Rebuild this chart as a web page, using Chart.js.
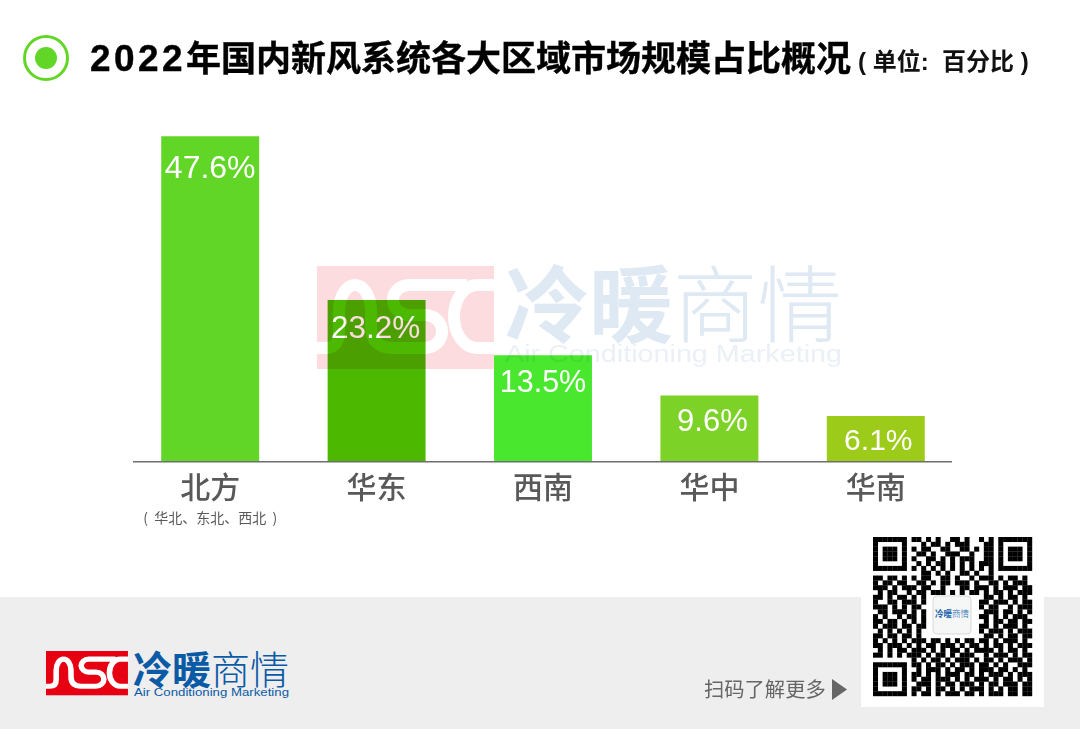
<!DOCTYPE html>
<html lang="zh-CN">
<head>
<meta charset="utf-8">
<title>2022年国内新风系统各大区域市场规模占比概况</title>
<script src="https://cdn.jsdelivr.net/npm/chart.js@4/dist/chart.umd.min.js"></script>
<style>
html, body { margin: 0; padding: 0; background: #fff; }
#page { position: relative; width: 1080px; height: 729px; overflow: hidden; font-family: "Liberation Sans", "Noto Sans CJK SC", sans-serif; }
#footer { position: absolute; left: 0; top: 597px; width: 1080px; height: 132px; background: #eeeeee; }
#qrBox { position: absolute; left: 861px; top: 597px; width: 183px; height: 110px; background: #fff; }
#chart { position: absolute; left: 0; top: 0; }
#title { position: absolute; left: 90px; top: 38px; font-size: 35px; line-height: 42px; font-weight: 700; color: #000; white-space: nowrap; -webkit-text-stroke: 0.4px #000; }
#title .num { font-size: 37px; letter-spacing: 3.4px; }
#unit { position: absolute; left: 858px; top: 47px; font-size: 24px; line-height: 30px; font-weight: 700; color: #111; white-space: pre; }
#scan { position: absolute; left: 704px; top: 675px; font-size: 20.3px; line-height: 27px; color: #666; white-space: nowrap; font-family: "Noto Sans CJK SC", sans-serif; }
svg { position: absolute; left: 0; top: 0; }
#mark { mix-blend-mode: multiply; pointer-events: none; }
.cjk { font-family: "Noto Sans CJK SC", sans-serif; }
</style>
</head>
<body>
<div id="page">
  <div id="footer"></div>
  <div id="qrBox"></div>
  <svg width="1080" height="729">
    <defs>
      <g id="nsc">
        <rect width="177" height="103" fill="currentColor"/>
        <path d="M0 82 H8 Q22 82 22 66 V45 A16 26 0 0 1 54 45 V60 Q54 82 76 82 H108 A17 16.5 0 0 0 108 49 H92 A16 15 0 0 1 92 19 H150 M177 19 H160 A23 31.5 0 0 0 160 82 H177" fill="none" stroke="#fff" stroke-width="12"/>
      </g>
    </defs>
    <circle cx="46" cy="58" r="21.5" fill="#fff" stroke="#62d626" stroke-width="3"/>
    <circle cx="46" cy="58" r="11" fill="#62d626"/>
    <use href="#nsc" transform="translate(46 651) scale(0.463 0.43)" style="color:#e60012"/>
    <text class="cjk" x="133" y="684" font-size="39" font-weight="700" fill="#0b5aa6" textLength="78" lengthAdjust="spacingAndGlyphs">冷暖</text>
    <text class="cjk" x="211" y="684" font-size="39" font-weight="300" fill="#0b5aa6" textLength="78" lengthAdjust="spacingAndGlyphs">商情</text>
    <text x="134" y="696" font-size="11.5" fill="#0b5aa6" textLength="155" lengthAdjust="spacingAndGlyphs">Air Conditioning Marketing</text>
    <polygon points="832,679 847,689.5 832,700" fill="#666"/>
    <g id="qr" fill="#000"></g>
    <rect x="933" y="596" width="38" height="38" rx="4" fill="#f5f6f6" stroke="#d8d8d8" stroke-width="1"/>
    <text class="cjk" x="935" y="617" font-size="9.5" font-weight="700" fill="#2a6bb0" textLength="17" lengthAdjust="spacingAndGlyphs">冷暖</text>
    <text class="cjk" x="952" y="617" font-size="9.5" font-weight="300" fill="#2a6bb0" textLength="17" lengthAdjust="spacingAndGlyphs">商情</text>
  </svg>
  <canvas id="chart" width="1080" height="729"></canvas>
  <svg id="mark" width="1080" height="729">
    <use href="#nsc" transform="translate(317 266)" style="color:#fcdcdf"/>
    <text class="cjk" x="505" y="336" font-size="84" font-weight="700" fill="#dfe9f3" textLength="168" lengthAdjust="spacingAndGlyphs">冷暖</text>
    <text class="cjk" x="673" y="336" font-size="84" font-weight="300" fill="#dfe9f3" textLength="169" lengthAdjust="spacingAndGlyphs">商情</text>
    <text x="505" y="362" font-size="23" fill="#ebf0f7" textLength="337" lengthAdjust="spacingAndGlyphs">Air Conditioning Marketing</text>
  </svg>
  <div id="title"><span class="num">2022</span>年国内新风系统各大区域市场规模占比概况</div>
  <div id="unit">( 单位:  百分比 )</div>
  <div id="scan">扫码了解更多</div>
</div>
<script>
var categories = ['北方', '华东', '西南', '华中', '华南'];
var subLabels = ['(  华北、东北、西北  )', '', '', '', ''];
// bar heights as drawn in the picture (they do not follow the printed shares exactly)
var barHeights = [47.6, 23.6, 15.5, 9.6, 6.6];
var shareLabels = ['47.6%', '23.2%', '13.5%', '9.6%', '6.1%'];
var barColors = ['#62d626', '#4cb900', '#4ae72f', '#7cd226', '#9ccb1a'];

var qrRows = [
    '#######.##.#.#..##.#..#.#.#######',
    '#.....#...#.##.#.###...##.#.....#',
    '#.###.#.#.##..##..##.#.##.#.###.#',
    '#.###.#..##.#..###..#..##.#.###.#',
    '#.###.#.#..##.#.#.###..##.#.###.#',
    '#.....#..#.#.##.#.#.#.###.#.....#',
    '#######.#.#.#.#.#.#.#.#.#.#######',
    '..........##.#.#..##.#..#........',
    '##.##.#.#.##..##.#..#.###.#.##.#.',
    '#.##.##..##.#.##.###.#..##.#.###.',
    '###.#.###.##..#...##.###.#.###.##',
    '.#.##..#.##.###.#.#.##.#.##.#.###',
    '##.#.##.#.#............##.#.##.#.',
    '#..##.###.#...........##.###.#.##',
    '###.#.#.##............#.##..#.###',
    '.##.###.#.#............###.##.#.#',
    '#.#..#.##.#...........##.#.#.###.',
    '##.##.#.#.#............#.##.##.##',
    '#.###.##.##...........##.#.###.#.',
    '.#.#.#.#.#............#.###.#.###',
    '##.##.##.#.............##.#.##.##',
    '#.#.#.#.###.##.#.#.##.##.#.###.#.',
    '##.###.#.#.##.###.#.##.#.##.#.###',
    '.#.#.##.###.#.#.##.#.####.#.##.#.',
    '##.#.#.###.#.##.#.###..#.###.#.##',
    '........#.#.##.#.###.#.##.#.###.#',
    '#######.##.#.##.#.###.##.#.#..###',
    '#.....#..#.###.#.##.#.###.##.#.#.',
    '#.###.#.##.#.#.###.##.#.###.#.###',
    '#.###.#.#.##.###.#.#.###.#.##.#.#',
    '#.###.#..###.#.##.###.#.##.###.##',
    '#.....#.##.#.##.#.#.###.#.#.##.##',
    '#######.#.##.#.###.##.#.###.##.##'
];

// qr code modules, same idea as a cell grid
var qrGroup = document.getElementById('qr');
var qrLeft = 873, qrTop = 537, qrCell = 159 / 33;
qrRows.forEach(function(row, r) {
    for (var c = 0; c < row.length; c++) {
        if (row[c] !== '#') continue;
        var cell = document.createElementNS('http://www.w3.org/2000/svg', 'rect');
        cell.setAttribute('x', qrLeft + c * qrCell);
        cell.setAttribute('y', qrTop + r * qrCell);
        cell.setAttribute('width', qrCell + 0.2);
        cell.setAttribute('height', qrCell + 0.2);
        qrGroup.appendChild(cell);
    }
});

// Labels inside the bars, axis line and the small line under 北方
var labelFontSizes = [32, 31.5, 30.5, 31, 30];
var labelDrop = [33, 29, 28, 27, 26];
var labelShift = [0, -1, 0, 3, 2.5];
var barExtras = {
    id: 'barExtras',
    afterDatasetsDraw: function(chart) {
        var ctx = chart.ctx;
        var bottom = chart.scales.y.getPixelForValue(0);
        ctx.save();
        ctx.fillStyle = '#6e6e6e';
        ctx.fillRect(133, bottom, 819, 1.5);
        ctx.textAlign = 'center';
        ctx.textBaseline = 'middle';
        chart.getDatasetMeta(0).data.forEach(function(bar, i) {
            ctx.fillStyle = '#ffffff';
            ctx.font = labelFontSizes[i] + 'px "Liberation Sans", Arial, sans-serif';
            ctx.fillText(shareLabels[i], bar.x + labelShift[i], bar.y + labelDrop[i]);
            if (subLabels[i]) {
                ctx.fillStyle = '#595959';
                ctx.font = '14px "Noto Sans CJK SC", sans-serif';
                ctx.fillText(subLabels[i], bar.x, 518);
            }
        });
        ctx.restore();
    }
};

new Chart(document.getElementById('chart').getContext('2d'), {
    type: 'bar',
    data: {
        labels: categories,
        datasets: [{
            data: barHeights,
            backgroundColor: barColors,
            borderWidth: 0,
            barPercentage: 1,
            categoryPercentage: 98 / 166.5
        }]
    },
    options: {
        responsive: false,
        animation: false,
        layout: { padding: { left: 127, right: 121, top: 120, bottom: 0 } },
        plugins: { legend: { display: false }, tooltip: { enabled: false } },
        scales: {
            x: {
                grid: { display: false, drawTicks: false },
                border: { display: false },
                ticks: {
                    color: '#595959',
                    padding: 8,
                    maxRotation: 0,
                    font: { family: '"Noto Sans CJK SC", sans-serif', size: 30, weight: '500' }
                },
                afterFit: function(scale) { scale.height = 268; }
            },
            y: { display: false, min: 0, max: 50 }
        }
    },
    plugins: [barExtras]
});
</script>
</body>
</html>
